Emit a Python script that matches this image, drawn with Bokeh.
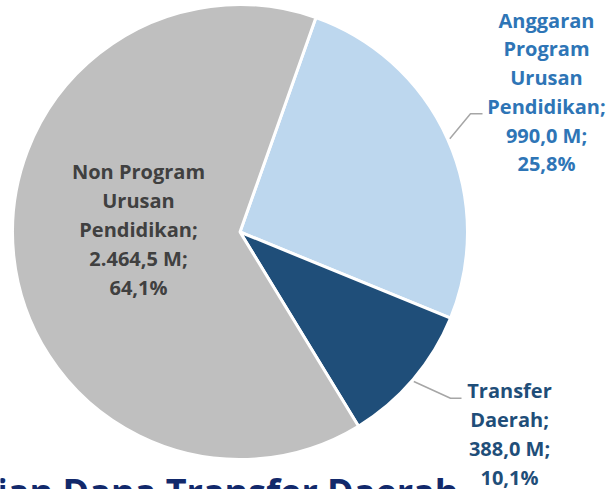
import math
from bokeh.plotting import figure
from bokeh.models import Range1d, ColumnDataSource
from bokeh.core.properties import value
from bokeh.embed import file_html
from bokeh.resources import INLINE

# ---- data ----
categories = ["Anggaran Program Urusan Pendidikan", "Transfer Daerah", "Non Program Urusan Pendidikan"]
values = [990.0, 388.0, 2464.5]
value_labels = ["990,0 M;", "388,0 M;", "2.464,5 M;"]
pct_labels = ["25,8%", "10,1%", "64,1%"]
name_lines = [["Anggaran", "Program", "Urusan", "Pendidikan;"],
              ["Transfer", "Daerah;"],
              ["Non Program", "Urusan", "Pendidikan;"]]
slice_colors = ["#bdd7ee", "#1f4e79", "#bfbfbf"]
label_colors = ["#2e75b6", "#1f4e79", "#404040"]
title_text = "sian Dana Transfer Daerah"

W, H = 607, 489
p = figure(width=W, height=H, output_backend="svg", toolbar_location=None,
           x_range=Range1d(0, W), y_range=Range1d(0, H), min_border=0)
p.axis.visible = False
p.grid.visible = False
p.outline_line_color = None
p.background_fill_color = "white"
p.border_fill_color = "white"


def sx(x):
    return x


def sy(y):
    return H - y


TEXT_SHIFT = -7  # baseline correction

# pie geometry
cx, cy, r = sx(239.5), sy(231.5), 227.5
first_angle = 19.5  # degrees clockwise from 12 o'clock
total = sum(values)
starts, ends = [], []
a = 90 - first_angle
for v in values:
    sweep = v / total * 360.0
    starts.append(math.radians(a - sweep))
    ends.append(math.radians(a))
    a -= sweep

src = ColumnDataSource(dict(start=starts, end=ends, color=slice_colors,
                            cat=categories, val=values))
p.wedge(x=cx, y=cy, radius=r, start_angle="start", end_angle="end",
        fill_color="color", line_color="white", line_width=3, source=src)

# leader lines
p.line(x=[sx(449.3), sx(470), sx(482)], y=[sy(138.3), sy(113.3), sy(113.3)],
       line_color="#a6a6a6", line_width=1.5)
p.line(x=[sx(413.3), sx(450), sx(461)], y=[sy(381), sy(397.7), sy(397.7)],
       line_color="#a6a6a6", line_width=1.5)

# labels
label_pos = [(546, 26.7, 28.7), (509, 397, 29.0), (138, 178.3, 29.0)]
for i in range(3):
    lines = name_lines[i] + [value_labels[i], pct_labels[i]]
    x0, b0, step = label_pos[i]
    xs = [sx(x0)] * len(lines)
    ys = [sy(b0 + k * step + TEXT_SHIFT) for k in range(len(lines))]
    p.text(x=xs, y=ys, text=lines, text_font=value("Open Sans"),
           text_font_style="bold", text_font_size="20px",
           text_color=label_colors[i], text_align="center",
           text_baseline="alphabetic")

# cut-off title at bottom
p.text(x=[sx(458)], y=[sy(498 + TEXT_SHIFT)], text=[title_text], text_font=value("Open Sans"),
       text_font_style="bold", text_font_size="36px", text_color="#12296b",
       text_align="right", text_baseline="alphabetic")

open("out.html", "w").write(file_html(p, INLINE))
